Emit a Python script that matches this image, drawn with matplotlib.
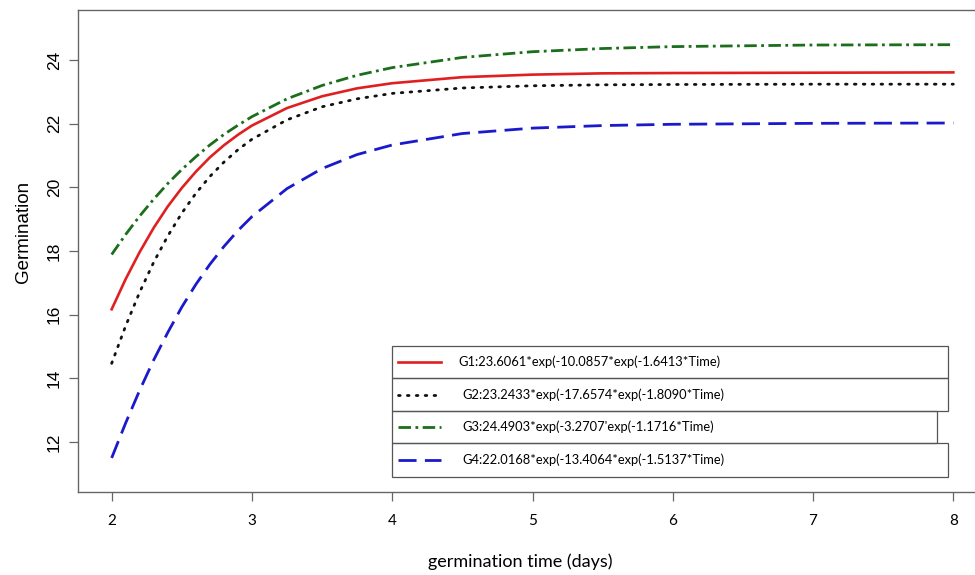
import matplotlib
matplotlib.use("Agg")
import matplotlib.pyplot as plt
from matplotlib.patches import Rectangle
from matplotlib.lines import Line2D

# values
time = [2.0, 2.1, 2.2, 2.3, 2.4, 2.5, 2.6, 2.7, 2.8, 2.9, 3.0, 3.25, 3.5, 3.75, 4.0,
        4.5, 5.0, 5.5, 6.0, 7.0, 8.0]
g1 = [16.17, 17.12, 17.97, 18.73, 19.40, 19.98, 20.49, 20.94, 21.32, 21.65, 21.94,
      22.49, 22.86, 23.11, 23.27, 23.46, 23.54, 23.58, 23.59, 23.60, 23.61]
g2 = [14.47, 15.65, 16.71, 17.65, 18.47, 19.19, 19.81, 20.34, 20.79, 21.18, 21.51,
      22.12, 22.53, 22.78, 22.95, 23.12, 23.19, 23.22, 23.23, 23.24, 23.24]
g3 = [17.89, 18.52, 19.10, 19.63, 20.12, 20.56, 20.96, 21.33, 21.66, 21.95, 22.22,
      22.78, 23.20, 23.52, 23.76, 24.08, 24.26, 24.36, 24.42, 24.47, 24.48]
g4 = [11.50, 12.60, 13.63, 14.58, 15.44, 16.24, 16.95, 17.58, 18.14, 18.64, 19.08,
      19.96, 20.59, 21.03, 21.33, 21.69, 21.86, 21.94, 21.98, 22.01, 22.02]

labels = ["G1:23.6061*exp(-10.0857*exp(-1.6413*Time)",
          "G2:23.2433*exp(-17.6574*exp(-1.8090*Time)",
          "G3:24.4903*exp(-3.2707'exp(-1.1716*Time)",
          "G4:22.0168*exp(-13.4064*exp(-1.5137*Time)"]
xticks = [2, 3, 4, 5, 6, 7, 8]
yticks = [12, 14, 16, 18, 20, 22, 24]

W, H = 975, 575
fig = plt.figure(figsize=(W / 100, H / 100), dpi=100)
ax = fig.add_axes([78 / W, 1 - 492 / H, (987 - 78) / W, (492 - 10) / H])

styles = [
    dict(color="#e02020", lw=1.9, ls="-"),
    dict(color="#111111", lw=2.0, ls=(0, (0.6, 2.6)), dash_capstyle="round"),
    dict(color="#1c6e1c", lw=2.0, ls=(0, (4.5, 1.6, 1.0, 1.6))),
    dict(color="#1a1acc", lw=2.0, ls=(0, (6.5, 3.0))),
]
for ys, st in zip([g1, g2, g3, g4], styles):
    ax.plot(time, ys, **st)

ax.set_xlim(1.76, 8.24)
ax.set_ylim(10.43, 25.57)
ax.set_xticks(xticks)
ax.set_yticks(yticks)
ax.spines["right"].set_visible(False)
for s in ["left", "top", "bottom"]:
    ax.spines[s].set_color("#666666")
    ax.spines[s].set_linewidth(1.0)
ax.tick_params(axis="both", direction="out", length=6.5, width=0.9, color="#666666")
ax.tick_params(axis="y", pad=5, labelsize=12.5)
ax.tick_params(axis="x", pad=9, labelsize=11)
for t in ax.get_yticklabels():
    t.set_rotation(90)
    t.set_va("center")
    t.set_family("Liberation Sans")
for t in ax.get_xticklabels():
    t.set_family("Lato")

fig.text(24 / W, 1 - 232 / H, "Germination", rotation=90, ha="center", va="center",
         fontsize=13.5, family="Liberation Sans")
fig.text(520 / W, 1 - 562 / H, "germination time (days)", ha="center", va="center",
         fontsize=13, family="Lato")

# legend drawn as four stacked boxes
rows = [(346, 378, 948, 458), (378, 411, 948, 462), (411, 443, 937, 462), (443, 477, 948, 462)]
for (top, bot, right, tx), lab, st in zip(rows, labels, styles):
    fig.add_artist(Rectangle((392 / W, 1 - bot / H), (right - 392) / W, (bot - top) / H,
                             transform=fig.transFigure, fill=False, ec="#555555", lw=0.9))
    yc = 1 - (top + bot) / 2 / H
    fig.add_artist(Line2D([398 / W, 441 / W], [yc, yc], transform=fig.transFigure, **st))
    fig.text(tx / W, yc, lab, ha="left", va="center", fontsize=9.3, family="Lato")

fig.savefig("out.png", dpi=100)
